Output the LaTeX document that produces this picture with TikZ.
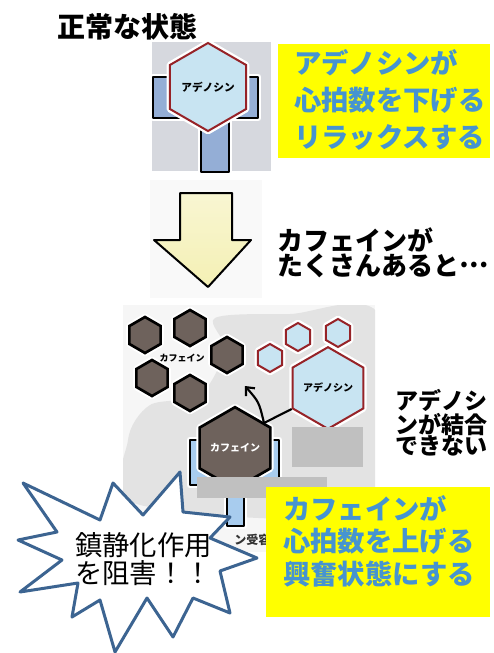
\documentclass[tikz,border=0pt]{standalone}
\usepackage{fontspec}
\setmainfont{Noto Sans CJK JP}
\usetikzlibrary{shapes.geometric,arrows.meta,positioning}

\definecolor{cafbrown}{RGB}{110,98,92}
\definecolor{adered}{RGB}{150,35,40}
\definecolor{adefill}{RGB}{200,228,242}
\definecolor{recblue}{RGB}{148,174,214}
\definecolor{recblueb}{RGB}{168,204,238}
\definecolor{boxyellow}{RGB}{255,255,0}
\definecolor{msgblue}{RGB}{70,148,208}
\definecolor{burstblue}{RGB}{60,100,145}
\definecolor{photogray}{RGB}{214,216,222}
\definecolor{hidegray}{RGB}{192,192,192}
\definecolor{arrowyellow}{RGB}{244,240,180}

\tikzset{
	glow/.style={preaction={draw=white,line width=5pt,line join=round}},
	hexa/.style={regular polygon,regular polygon sides=6,shape border rotate=30,inner sep=0pt},
	cafhex/.style={hexa,glow,fill=cafbrown,draw=black,line width=2pt},
	adehex/.style={hexa,glow,fill=adefill,draw=adered,line width=1.5pt},
	recep/.style={glow,draw=black,line width=2pt,line join=round},
	msg/.style={anchor=west,inner sep=0pt,align=left,text=msgblue,font=\bfseries\fontsize{20.5}{27.75}\selectfont},
	note/.style={anchor=west,inner sep=0pt,align=left,font=\bfseries\fontsize{19.5}{19}\selectfont}
}

\begin{document}
\begin{tikzpicture}[x=0.75pt,y=0.75pt,yscale=-1,xscale=1]
	\useasboundingbox (0,0) rectangle (493,653);

	% normal state
	\node[anchor=west,inner sep=0pt,font=\bfseries\fontsize{21}{25}\selectfont] (title) at (57,27) {正常な状態};
	\fill[photogray] (152,42) rectangle (271,171);
	\draw[recep,fill=recblue] (153,77) -- (153,118) -- (201,118) -- (201,172) -- (229,172) -- (229,118) -- (258,118) -- (258,77) -- (246,77) -- (246,98) -- (170,98) -- (170,77) -- cycle;
	\node[adehex,minimum size=66pt,font=\bfseries\fontsize{8}{9}\selectfont] (ade0) at (208,87) {アデノシン};

	\fill[boxyellow] (278,44) rectangle (490,158);
	\node[msg] (msg0) at (294,100) {アデノシンが\\心拍数を下げる\\リラックスする};

	% big arrow
	\fill[gray!5] (150,180) rectangle (262,298);
	\draw[line width=1.5pt,line join=round,top color=arrowyellow!60!white,bottom color=arrowyellow] (180,193) -- (232,193) -- (232,240) -- (251,240) -- (208,287) -- (154,240) -- (180,240) -- cycle;
	\node[note] (lots) at (277,253) {カフェインが\\たくさんあると\raisebox{0.32em}{…}};

	% caffeine state
	\fill[gray!7] (123,305) rectangle (375,552);
	\begin{scope}
		\clip (123,305) rectangle (375,552);
		\fill[gray!22] plot[smooth cycle] coordinates {(215,318) (290,314) (380,316) (385,505) (140,505) (128,440) (150,405) (200,395) (225,350)};
	\end{scope}

	\node[cafhex,minimum size=27pt] (caf1) at (145,335) {};
	\node[cafhex,minimum size=27pt] (caf2) at (190,328) {};
	\node[cafhex,minimum size=27pt] (caf3) at (227,355) {};
	\node[cafhex,minimum size=27pt] (caf4) at (152,378) {};
	\node[cafhex,minimum size=27pt] (caf5) at (190,393) {};
	\node[inner sep=0pt,font=\bfseries\fontsize{6.75}{8}\selectfont] (caflbl) at (182,358) {カフェイン};

	\node[adehex,minimum size=21pt] (ade1) at (298,337) {};
	\node[adehex,minimum size=21pt] (ade2) at (338,333) {};
	\node[adehex,minimum size=21pt] (ade3) at (270,358) {};
	\node[adehex,minimum size=55.5pt,font=\bfseries\fontsize{7.5}{9}\selectfont] (ade) at (328,388) {アデノシン};

	\draw[recep,fill=recblueb] (190,440) -- (190,485) -- (227,485) -- (227,526) -- (244,526) -- (244,485) -- (279,485) -- (279,440) -- (267,440) -- (267,455) -- (203,455) -- (203,440) -- cycle;
	\node[cafhex,minimum size=55.5pt,text=white,font=\bfseries\fontsize{7.5}{9}\selectfont] (caf) at (235,448) {カフェイン};

	\coordinate (bend) at (264,423);
	\coordinate (tip) at (245,386);
	\draw[line width=1.6pt,-{Straight Barb[length=5pt,width=9pt]}] (ade.210) -- (bend) .. controls (259,402) .. (tip);

	\fill[hidegray] (292,427) rectangle (363,467);
	\fill[hidegray] (197,477) rectangle (327,498);
	\node[anchor=west,inner sep=0pt,text=black!80,font=\bfseries\fontsize{9}{10}\selectfont] (reclbl) at (234,540) {ン受容体};

	\node[anchor=west,inner sep=0pt,align=left,font=\bfseries\fontsize{17.25}{16}\selectfont] (nobind) at (395,423) {アデノシ\\ンが結合\\できない};

	\fill[boxyellow] (266,487) rectangle (490,617);
	\node[msg,font=\bfseries\fontsize{20.5}{24.4}\selectfont] (msg1) at (283,541) {カフェインが\\心拍数を上げる\\興奮状態にする};

	% burst
	\draw[fill=white,draw=burstblue,line width=2.25pt,line join=round] (23,483) -- (100,520) -- (113,483) -- (143,515) -- (180,472) -- (183,512) -- (230,517) -- (210,538) -- (257,558) -- (220,571) -- (230,613) -- (193,598) -- (173,637) -- (147,598) -- (115,652) -- (100,600) -- (72,617) -- (78,583) -- (20,592) -- (62,560) -- (18,540) -- (57,532) -- cycle;
	\node[anchor=west,inner sep=0pt,align=left,font=\fontsize{20.5}{21}\selectfont] (block) at (75,559) {鎮静化作用\\を阻害！！};
\end{tikzpicture}
\end{document}
